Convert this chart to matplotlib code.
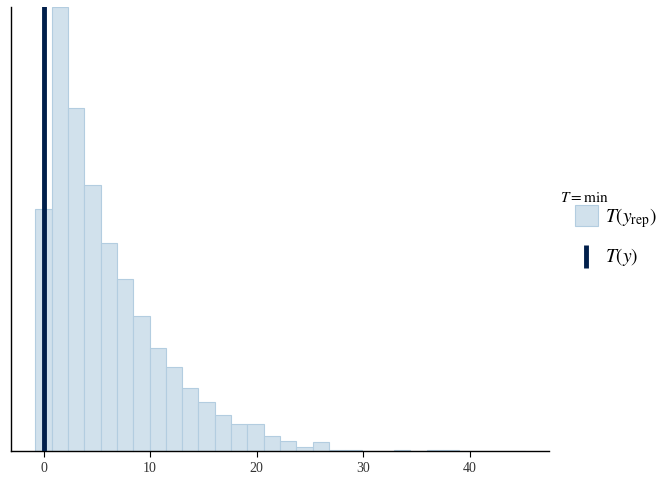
import matplotlib.pyplot as plt
from matplotlib.patches import Patch
from matplotlib.lines import Line2D
from matplotlib.legend_handler import HandlerBase

# -----------------------------
# DATA (histogram of T(y_rep) = min, 30 bins)
# -----------------------------
bin_width = 1.53
first_center = 0.0
counts = [327, 600, 463, 359, 281, 233, 183, 139, 114, 85,
          66, 48, 36, 36, 20, 13, 6, 12, 2, 2,
          0, 0, 1, 0, 1, 1, 0, 0, 0, 0]
t_y = 0.0   # observed statistic

centers = [first_center + i * bin_width for i in range(len(counts))]

# bayesplot blue scheme
fill_col = "#d1e1ec"
edge_col = "#b3cde0"
dark_col = "#011f4b"

plt.rcParams['font.family'] = ['Liberation Serif', 'DejaVu Serif']
plt.rcParams['mathtext.fontset'] = 'stix'


class VLineHandler(HandlerBase):
    # vertical bar as legend key, like geom_vline in ggplot
    def create_artists(self, legend, orig, xd, yd, w, h, fontsize, trans):
        x = -xd + w / 2
        ln = Line2D([x, x], [-yd - 0.05 * h, -yd + 1.0 * h],
                    color=orig.get_color(), linewidth=orig.get_linewidth(),
                    solid_capstyle="butt", transform=trans)
        return [ln]


fig = plt.figure(figsize=(6.72, 4.8), dpi=100)
ax = fig.add_axes([11 / 672, 1 - 451 / 480, 538 / 672, 444 / 480])

ax.bar(centers, counts, width=bin_width, color=fill_col, edgecolor=edge_col,
       linewidth=0.8, zorder=2)
ax.axvline(t_y, color=dark_col, linewidth=3.5, zorder=3)

lo = centers[0] - bin_width / 2
hi = centers[-1] + bin_width / 2
pad = 0.05 * (hi - lo)
ax.set_xlim(lo - pad, hi + pad)
ax.set_ylim(0, max(counts))

ax.set_xticks([0, 10, 20, 30, 40])
ax.set_yticks([])
for s in ["top", "right"]:
    ax.spines[s].set_visible(False)
for s in ["left", "bottom"]:
    ax.spines[s].set_linewidth(1.0)
ax.tick_params(axis="x", length=4, width=0.8, colors="black",
               labelcolor="#333333", labelsize=10, pad=4)

# -----------------------------
# LEGEND
# -----------------------------
fig.text(560 / 672, 1 - 198 / 480, r"$T = \mathrm{min}$", fontsize=11,
         ha="left", va="center")

vline_key = Line2D([0], [0], color=dark_col, linewidth=3.5)
handles = [Patch(facecolor=fill_col, edgecolor=edge_col, linewidth=0.8),
           vline_key]
labels = [r"$T(y_{\mathrm{rep}})$", r"$T(y)$"]
leg = fig.legend(handles, labels, loc="upper left",
                 bbox_to_anchor=(575 / 672, 1 - 205 / 480),
                 frameon=False, fontsize=14, borderpad=0, borderaxespad=0,
                 handlelength=1.18, handleheight=1.3, handletextpad=0.36,
                 labelspacing=0.8, handler_map={vline_key: VLineHandler()})

fig.savefig("out.png", dpi=100)
